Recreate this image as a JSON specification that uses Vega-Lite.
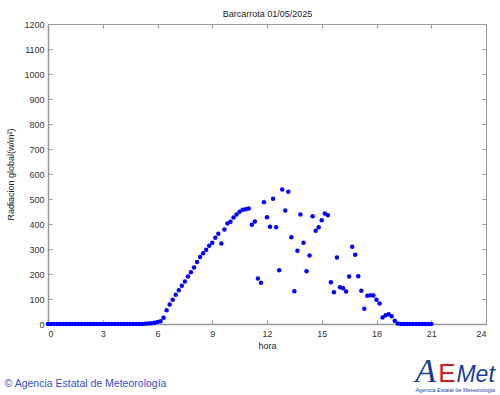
{
  "$schema": "https://vega.github.io/schema/vega-lite/v6.json",
  "width": 438,
  "height": 300,
  "autosize": "none",
  "padding": {"left": 48, "top": 24, "right": 14, "bottom": 71},
  "background": "white",
  "config": {
    "font": "Liberation Sans",
    "view": {"stroke": "#9a9a9a", "strokeWidth": 1},
    "axis": {
      "grid": false,
      "domainColor": "#9a9a9a",
      "domainWidth": 1.5,
      "tickColor": "#9a9a9a",
      "tickSize": -4,
      "labelFont": "Liberation Sans",
      "labelFontSize": 9,
      "labelColor": "#333333",
      "titleFont": "Liberation Sans",
      "titleFontSize": 9,
      "titleFontWeight": "normal",
      "titleColor": "#222222"
    }
  },
  "data": {
    "values": [
      {"hora": 0, "rad": 0}, {"hora": 0.167, "rad": 0}, {"hora": 0.333, "rad": 0}, {"hora": 0.5, "rad": 0}, {"hora": 0.667, "rad": 0}, {"hora": 0.833, "rad": 0},
      {"hora": 1, "rad": 0}, {"hora": 1.167, "rad": 0}, {"hora": 1.333, "rad": 0}, {"hora": 1.5, "rad": 0}, {"hora": 1.667, "rad": 0}, {"hora": 1.833, "rad": 0},
      {"hora": 2, "rad": 0}, {"hora": 2.167, "rad": 0}, {"hora": 2.333, "rad": 0}, {"hora": 2.5, "rad": 0}, {"hora": 2.667, "rad": 0}, {"hora": 2.833, "rad": 0},
      {"hora": 3, "rad": 0}, {"hora": 3.167, "rad": 0}, {"hora": 3.333, "rad": 0}, {"hora": 3.5, "rad": 0}, {"hora": 3.667, "rad": 0}, {"hora": 3.833, "rad": 0},
      {"hora": 4, "rad": 0}, {"hora": 4.167, "rad": 0}, {"hora": 4.333, "rad": 0}, {"hora": 4.5, "rad": 0}, {"hora": 4.667, "rad": 0}, {"hora": 4.833, "rad": 0},
      {"hora": 5, "rad": 0}, {"hora": 5.167, "rad": 0}, {"hora": 5.333, "rad": 1}, {"hora": 5.5, "rad": 2}, {"hora": 5.667, "rad": 3}, {"hora": 5.833, "rad": 5},
      {"hora": 6, "rad": 8}, {"hora": 6.167, "rad": 11}, {"hora": 6.333, "rad": 25}, {"hora": 6.5, "rad": 55}, {"hora": 6.667, "rad": 78}, {"hora": 6.833, "rad": 97},
      {"hora": 7, "rad": 117}, {"hora": 7.167, "rad": 135}, {"hora": 7.333, "rad": 153}, {"hora": 7.5, "rad": 170}, {"hora": 7.667, "rad": 190}, {"hora": 7.833, "rad": 207},
      {"hora": 8, "rad": 226}, {"hora": 8.167, "rad": 248}, {"hora": 8.333, "rad": 268}, {"hora": 8.5, "rad": 283}, {"hora": 8.667, "rad": 297}, {"hora": 8.833, "rad": 313},
      {"hora": 9, "rad": 325}, {"hora": 9.167, "rad": 345}, {"hora": 9.333, "rad": 361}, {"hora": 9.5, "rad": 322}, {"hora": 9.667, "rad": 378}, {"hora": 9.833, "rad": 402},
      {"hora": 10, "rad": 409}, {"hora": 10.167, "rad": 426}, {"hora": 10.333, "rad": 438}, {"hora": 10.5, "rad": 449}, {"hora": 10.667, "rad": 457}, {"hora": 10.833, "rad": 459},
      {"hora": 11, "rad": 462}, {"hora": 11.167, "rad": 397}, {"hora": 11.333, "rad": 410}, {"hora": 11.5, "rad": 182}, {"hora": 11.667, "rad": 165}, {"hora": 11.833, "rad": 487},
      {"hora": 12, "rad": 427}, {"hora": 12.167, "rad": 389}, {"hora": 12.333, "rad": 501}, {"hora": 12.5, "rad": 387}, {"hora": 12.667, "rad": 215}, {"hora": 12.833, "rad": 538},
      {"hora": 13, "rad": 454}, {"hora": 13.167, "rad": 529}, {"hora": 13.333, "rad": 347}, {"hora": 13.5, "rad": 131}, {"hora": 13.667, "rad": 293}, {"hora": 13.833, "rad": 438},
      {"hora": 14, "rad": 325}, {"hora": 14.167, "rad": 211}, {"hora": 14.333, "rad": 274}, {"hora": 14.5, "rad": 431}, {"hora": 14.667, "rad": 373}, {"hora": 14.833, "rad": 387},
      {"hora": 15, "rad": 415}, {"hora": 15.167, "rad": 442}, {"hora": 15.333, "rad": 435}, {"hora": 15.5, "rad": 167}, {"hora": 15.667, "rad": 127}, {"hora": 15.833, "rad": 266},
      {"hora": 16, "rad": 147}, {"hora": 16.167, "rad": 143}, {"hora": 16.333, "rad": 130}, {"hora": 16.5, "rad": 190}, {"hora": 16.667, "rad": 309}, {"hora": 16.833, "rad": 277},
      {"hora": 17, "rad": 191}, {"hora": 17.167, "rad": 133}, {"hora": 17.333, "rad": 61}, {"hora": 17.5, "rad": 113}, {"hora": 17.667, "rad": 115}, {"hora": 17.833, "rad": 114},
      {"hora": 18, "rad": 97}, {"hora": 18.167, "rad": 82}, {"hora": 18.333, "rad": 26}, {"hora": 18.5, "rad": 35}, {"hora": 18.667, "rad": 39}, {"hora": 18.833, "rad": 31},
      {"hora": 19, "rad": 13}, {"hora": 19.167, "rad": 2}, {"hora": 19.333, "rad": 0}, {"hora": 19.5, "rad": 0}, {"hora": 19.667, "rad": 0}, {"hora": 19.833, "rad": 0},
      {"hora": 20, "rad": 0}, {"hora": 20.167, "rad": 0}, {"hora": 20.333, "rad": 0}, {"hora": 20.5, "rad": 0}, {"hora": 20.667, "rad": 0}, {"hora": 20.833, "rad": 0},
      {"hora": 21, "rad": 0}
    ]
  },
  "layer": [
    {
      "mark": {"type": "point", "filled": true, "color": "#0000ff", "opacity": 1, "size": 20, "clip": false},
      "encoding": {
        "x": {"field": "hora", "type": "quantitative", "scale": {"domain": [0, 24], "nice": false, "zero": false},
              "axis": {"orient": "bottom", "values": [0, 3, 6, 9, 12, 15, 18, 21, 24], "format": "d", "title": "hora", "labelPadding": 9, "titlePadding": 3}},
        "y": {"field": "rad", "type": "quantitative", "scale": {"domain": [0, 1200], "nice": false},
              "axis": {"orient": "left", "values": [0, 100, 200, 300, 400, 500, 600, 700, 800, 900, 1000, 1100, 1200], "format": "d", "title": "Radiacion global(w/m²)", "labelPadding": 8, "titlePadding": 8}}
      }
    },
    {
      "mark": {"type": "point", "opacity": 0},
      "encoding": {
        "x": {"field": "hora", "type": "quantitative",
              "axis": {"orient": "top", "values": [0, 3, 6, 9, 12, 15, 18, 21, 24], "labels": false, "title": "Barcarrota 01/05/2025", "titleFontSize": 9, "titlePadding": 5, "domain": false}},
        "y": {"field": "rad", "type": "quantitative",
              "axis": {"orient": "right", "values": [0, 100, 200, 300, 400, 500, 600, 700, 800, 900, 1000, 1100, 1200], "labels": false, "title": null, "domain": false}}
      }
    },
    {
      "data": {"values": [{}]},
      "mark": {"type": "text", "text": "© Agencia Estatal de Meteorología", "font": "Liberation Sans", "fontSize": 10.5, "color": "#3050c8", "align": "left", "baseline": "middle"},
      "encoding": {"x": {"datum": -2.38, "type": "quantitative", "axis": null}, "y": {"datum": -238, "type": "quantitative", "axis": null}}
    },
    {
      "data": {"values": [{}]},
      "mark": {"type": "text", "text": "A", "font": "Liberation Serif", "fontStyle": "italic", "fontSize": 34, "color": "#1c3c9c", "align": "left", "baseline": "alphabetic"},
      "encoding": {"x": {"datum": 20.13, "type": "quantitative", "axis": null}, "y": {"datum": -230, "type": "quantitative", "axis": null}}
    },
    {
      "data": {"values": [{}]},
      "mark": {"type": "text", "text": "E", "font": "Liberation Sans", "fontSize": 26, "color": "#d42020", "align": "left", "baseline": "alphabetic"},
      "encoding": {"x": {"datum": 21.39, "type": "quantitative", "axis": null}, "y": {"datum": -230, "type": "quantitative", "axis": null}}
    },
    {
      "data": {"values": [{}]},
      "mark": {"type": "text", "text": "Met", "font": "Liberation Sans", "fontStyle": "italic", "fontSize": 23, "color": "#1c3c9c", "align": "left", "baseline": "alphabetic"},
      "encoding": {"x": {"datum": 22.38, "type": "quantitative", "axis": null}, "y": {"datum": -230, "type": "quantitative", "axis": null}}
    },
    {
      "data": {"values": [{}]},
      "mark": {"type": "text", "text": "Agencia Estatal de Meteorología", "font": "Liberation Sans", "fontSize": 5.5, "color": "#1c3c9c", "align": "center", "baseline": "alphabetic"},
      "encoding": {"x": {"datum": 22.32, "type": "quantitative", "axis": null}, "y": {"datum": -270, "type": "quantitative", "axis": null}}
    }
  ],
  "resolve": {"axis": {"x": "independent", "y": "independent"}}
}
